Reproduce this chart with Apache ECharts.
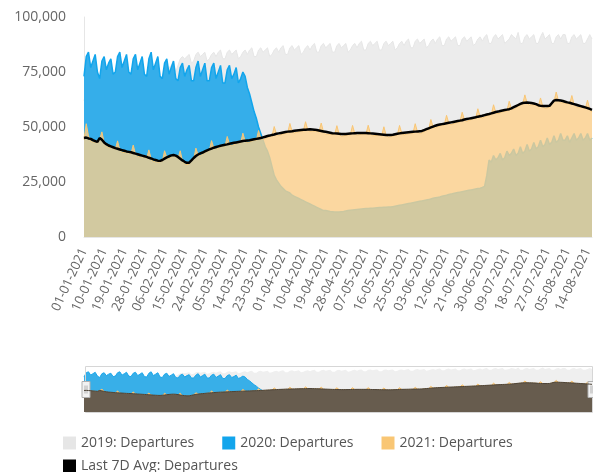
<!DOCTYPE html>
<html>
<head>
<meta charset="utf-8">
<script src="https://cdn.jsdelivr.net/npm/echarts@6/dist/echarts.min.js"></script>
<style>
html, body { margin: 0; padding: 0; background: #fff; overflow: hidden; }
#chart { width: 593px; height: 472px; }
</style>
</head>
<body>
<div id="chart"></div>
<script>
// categories: daily, 01-01-2021 .. 16-08-2021
const days = [];
for (let d = new Date(Date.UTC(2021, 0, 1)); d <= new Date(Date.UTC(2021, 7, 16)); d.setUTCDate(d.getUTCDate() + 1)) {
    const dd = String(d.getUTCDate()).padStart(2, '0');
    const mm = String(d.getUTCMonth() + 1).padStart(2, '0');
    days.push(dd + '-' + mm + '-' + d.getUTCFullYear());
}

const yTicks = [0, 25000, 50000, 75000, 100000];

// one row = one week
const dep2019 = [
    62000, 66000, 68000, 67000, 68000, 69000, 64000,
    65000, 68000, 69000, 68000, 69000, 70000, 65000,
    67000, 69000, 70000, 69000, 70000, 71000, 66000,
    68000, 70000, 71000, 70000, 71000, 72000, 67000,
    70000, 72000, 73000, 72000, 73000, 74000, 69000,
    73000, 76000, 78000, 77000, 78000, 80000, 75000,
    78000, 81000, 82000, 81000, 82000, 83000, 79000,
    80000, 83000, 84000, 82000, 83000, 84000, 80000,
    81000, 83000, 84000, 82000, 84000, 85000, 81000,
    81000, 84000, 85000, 83000, 84000, 85000, 81000,
    82000, 84000, 85000, 83000, 85000, 86000, 82000,
    82000, 85000, 86000, 84000, 85000, 86000, 82000,
    83000, 85000, 86000, 84000, 86000, 87000, 83000,
    83000, 86000, 87000, 85000, 86000, 87000, 83000,
    84000, 86000, 87000, 85000, 87000, 88000, 84000,
    84000, 87000, 88000, 86000, 87000, 88000, 84000,
    84000, 87000, 88000, 86000, 87000, 88000, 84000,
    85000, 87000, 88000, 86000, 88000, 89000, 85000,
    85000, 88000, 89000, 87000, 88000, 89000, 85000,
    85000, 88000, 89000, 87000, 88000, 89000, 85000,
    86000, 88000, 89000, 87000, 89000, 90000, 86000,
    86000, 89000, 90000, 88000, 89000, 90000, 86000,
    87000, 89000, 90000, 88000, 90000, 91000, 87000,
    87000, 90000, 91000, 89000, 90000, 91000, 87000,
    87000, 90000, 91000, 89000, 90000, 91000, 87000,
    88000, 90000, 91000, 89000, 91000, 92000, 88000,
    88000, 91000, 92000, 90000, 91000, 92000, 88000,
    89000, 90000, 92000, 91000, 90000, 93000, 88000,
    88000, 91000, 92000, 90000, 91000, 92000, 88000,
    88000, 91000, 93000, 90000, 91000, 92000, 88000,
    88000, 91000, 92000, 90000, 92000, 92000, 88000,
    88000, 91000, 92000, 90000, 91000, 92000, 88000,
    88000, 90000, 92000, 90000
];

const dep2020 = [
    73000, 82000, 84000, 77000, 80000, 83000, 75000,
    72000, 80000, 82000, 76000, 79000, 81000, 74000,
    75000, 82000, 84000, 77000, 80000, 83000, 75000,
    74000, 81000, 83000, 76000, 79000, 82000, 74000,
    73000, 81000, 84000, 76000, 79000, 82000, 73000,
    72000, 79000, 81000, 74000, 77000, 80000, 72000,
    71000, 77000, 79000, 73000, 76000, 78000, 71000,
    71000, 77000, 80000, 73000, 76000, 79000, 71000,
    71000, 77000, 79000, 72000, 75000, 78000, 70000,
    70000, 76000, 78000, 72000, 74000, 77000, 70000,
    72000, 75000, 73000, 68000, 65000, 61000, 57000,
    54000, 50000, 47000, 44000, 41000, 39000, 36000,
    32000, 28000, 26000, 24500, 23000, 22000, 21000,
    20500, 20000, 19000, 18500, 18000, 17500, 17000,
    16500, 16000, 15500, 15000, 14500, 14000, 13500,
    13000, 12500, 12000, 12000, 11800, 11600, 11500,
    11400, 11400, 11400, 11500, 11600, 11800, 12000,
    12200, 12300, 12400, 12500, 12600, 12700, 12800,
    12900, 13000, 13100, 13100, 13200, 13300, 13400,
    13400, 13500, 13500, 13600, 13600, 13800, 14000,
    14200, 14400, 14600, 14800, 15000, 15200, 15400,
    15600, 15800, 16000, 16200, 16400, 16600, 16800,
    17000, 17300, 17600, 17800, 18000, 18200, 18500,
    18800, 19000, 19300, 19500, 19800, 20000, 20200,
    20400, 20600, 20800, 21000, 21200, 21400, 21600,
    21800, 22000, 22200, 22500, 23000, 28000, 35000,
    34000, 37000, 35000, 36000, 38000, 35000, 36000,
    39000, 37000, 38000, 40000, 37000, 38000, 41000,
    38000, 39000, 42000, 39000, 40000, 43000, 40000,
    41000, 44000, 41000, 42000, 45000, 42000, 43000,
    46000, 43000, 44000, 47000, 44000, 44000, 46000,
    43000, 45000, 47000, 44000, 45000, 47000, 44000,
    45000, 47000, 44000, 45000
];

const dep2021 = [
    44400, 51500, 46000, 43600, 43200, 43000, 42800,
    44400, 47800, 42800, 41200, 40800, 40600, 40400,
    39800, 43700, 39600, 38500, 38400, 38300, 38300,
    37900, 41800, 37700, 36600, 36500, 36400, 36300,
    35800, 39600, 35500, 34300, 34200, 34100, 34200,
    34400, 39200, 36000, 35700, 36300, 36700, 36600,
    35800, 39200, 34600, 33200, 32900, 33200, 34400,
    35300, 40400, 37300, 37000, 37600, 38300, 39000,
    39200, 43800, 40400, 39900, 40400, 40900, 41300,
    41300, 45700, 42200, 41600, 42000, 42400, 42800,
    42800, 47200, 43600, 42900, 43200, 43600, 44000,
    44000, 48400, 44800, 44300, 44800, 45300, 45700,
    45800, 50200, 46700, 46100, 46500, 46900, 47300,
    47300, 51600, 47900, 47300, 47600, 47900, 48200,
    48100, 52400, 48700, 48000, 48100, 48200, 48200,
    47800, 51800, 47800, 46800, 46800, 46800, 46800,
    46500, 50600, 46700, 45800, 46000, 46200, 46500,
    46400, 50700, 47000, 46300, 46500, 46700, 46900,
    46700, 50800, 46900, 46000, 46100, 46200, 46300,
    46000, 50100, 46200, 45400, 45600, 45900, 46300,
    46300, 50700, 47100, 46400, 46700, 47000, 47300,
    47200, 51500, 47800, 47100, 47400, 48000, 48600,
    48800, 53400, 50000, 49600, 50100, 50500, 50900,
    50900, 55300, 51700, 51100, 51500, 51900, 52300,
    52300, 56700, 53200, 52600, 53000, 53400, 53800,
    53800, 58300, 54700, 54100, 54600, 55100, 55500,
    55600, 60100, 56600, 56000, 56500, 56900, 57300,
    57300, 61700, 58300, 58000, 58700, 59400, 60100,
    60300, 64600, 60900, 60000, 60100, 60100, 60000,
    59300, 63200, 59300, 58500, 58700, 59000, 60400,
    61400, 65900, 62000, 61000, 61000, 60900, 60800,
    60400, 64300, 60200, 59100, 59000, 58900, 58800,
    58300, 62200, 58000, 56800
];

const avg7d = [
    45000, 45200, 44800, 44600, 44000, 43600, 43200,
    45000, 44200, 43000, 42200, 41600, 41200, 40800,
    40400, 40100, 39800, 39500, 39200, 38900, 38700,
    38500, 38200, 37900, 37600, 37300, 37000, 36700,
    36400, 36000, 35700, 35300, 35000, 34700, 34600,
    35000, 35600, 36200, 36700, 37100, 37300, 37000,
    36400, 35600, 34800, 34200, 33700, 33800, 34800,
    35900, 36800, 37500, 38000, 38400, 38900, 39400,
    39800, 40200, 40600, 40900, 41200, 41500, 41700,
    41900, 42100, 42400, 42600, 42800, 43000, 43200,
    43400, 43600, 43800, 43900, 44000, 44200, 44400,
    44600, 44800, 45000, 45300, 45600, 45900, 46100,
    46400, 46600, 46900, 47100, 47300, 47500, 47700,
    47900, 48000, 48100, 48300, 48400, 48500, 48600,
    48700, 48800, 48900, 49000, 48900, 48800, 48600,
    48400, 48200, 48000, 47800, 47600, 47400, 47200,
    47100, 47000, 46900, 46800, 46800, 46800, 46900,
    47000, 47100, 47200, 47300, 47300, 47300, 47300,
    47300, 47200, 47100, 47000, 46900, 46800, 46700,
    46600, 46500, 46400, 46400, 46400, 46500, 46700,
    46900, 47100, 47300, 47400, 47500, 47600, 47700,
    47800, 47900, 48000, 48100, 48200, 48600, 49000,
    49400, 49800, 50200, 50600, 50900, 51100, 51300,
    51500, 51700, 51900, 52100, 52300, 52500, 52700,
    52900, 53100, 53400, 53600, 53800, 54000, 54200,
    54400, 54700, 54900, 55100, 55400, 55700, 55900,
    56200, 56500, 56800, 57000, 57300, 57500, 57700,
    57900, 58100, 58500, 59000, 59500, 60000, 60500,
    60900, 61000, 61100, 61000, 60900, 60700, 60400,
    59900, 59600, 59500, 59500, 59500, 59600, 60800,
    62000, 62300, 62200, 62000, 61800, 61500, 61200,
    61000, 60700, 60400, 60100, 59800, 59500, 59200,
    58900, 58600, 58200, 57800
];

const names = ['2019: Departures', '2020: Departures', '2021: Departures', 'Last 7D Avg: Departures'];

const chart = echarts.init(document.getElementById('chart'));
const font = '"Open Sans", sans-serif';

function area(name, data, line, fill, opacity, lw, axis, z) {
    return {
        name: name,
        type: 'line',
        data: data,
        xAxisIndex: axis,
        yAxisIndex: axis,
        z: z,
        symbol: 'none',
        silent: axis === 1,
        lineStyle: { width: lw, color: line },
        itemStyle: { color: line },
        areaStyle: { color: fill, opacity: opacity }
    };
}

chart.setOption({
    animation: false,
    textStyle: { fontFamily: font },
    grid: [
        { left: 84, right: 1, top: 17, height: 220, outerBoundsMode: 'none' },
        { left: 84, right: 1, top: 367, height: 45, outerBoundsMode: 'none' }
    ],
    xAxis: [
        {
            type: 'category', data: days, boundaryGap: false, gridIndex: 0,
            axisLine: { lineStyle: { color: '#e6e6e6' } },
            axisTick: { show: false },
            axisLabel: { interval: 8, rotate: 65, color: '#666', fontSize: 13, margin: 12, fontFamily: font }
        },
        { type: 'category', data: days, boundaryGap: false, gridIndex: 1, show: false }
    ],
    yAxis: [
        {
            type: 'value', min: yTicks[0], max: yTicks[yTicks.length - 1], interval: 25000, gridIndex: 0,
            axisLine: { show: true, lineStyle: { color: '#e6e6e6' } },
            axisTick: { show: false },
            splitLine: { show: false },
            axisLabel: {
                color: '#666', fontSize: 14, margin: 18, fontFamily: font,
                formatter: function (v) { return v.toLocaleString('en-US'); }
            }
        },
        { type: 'value', min: 0, max: 94000, gridIndex: 1, show: false }
    ],
    dataZoom: [{
        type: 'slider', xAxisIndex: 0, start: 0, end: 100,
        left: 84, right: 1, top: 366, height: 47,
        showDataShadow: false, showDetail: false, brushSelect: false, moveHandleSize: 0,
        backgroundColor: 'rgba(0,0,0,0)', fillerColor: 'rgba(0,0,0,0)',
        borderColor: '#d6d6d6',
        handleIcon: 'path://M0,0 L8,0 L8,16 L0,16 Z M3,4 L3,12 M5,4 L5,12',
        handleSize: 16,
        handleStyle: { color: '#f2f2f2', borderColor: '#b0b0b0', borderWidth: 1 }
    }],
    legend: [
        {
            data: names.slice(0, 3), left: 58, top: 431, icon: 'rect',
            itemWidth: 13, itemHeight: 13, itemGap: 28,
            textStyle: { color: '#555', fontSize: 14, fontFamily: font }
        },
        {
            data: names.slice(3), left: 58, top: 454, icon: 'rect',
            itemWidth: 13, itemHeight: 13,
            textStyle: { color: '#555', fontSize: 14, fontFamily: font }
        }
    ],
    series: [
        area(names[0], dep2019, '#e6e6e6', '#ececec', 1, 1, 0, 1),
        area(names[1], dep2020, '#12a5ec', '#35aeea', 1, 1.5, 0, 2),
        area(names[2], dep2021, '#f9c674', '#ffd18a', 0.78, 1, 0, 3),
        {
            name: names[3], type: 'line', data: avg7d, symbol: 'none', z: 4,
            lineStyle: { width: 2.5, color: '#000' }, itemStyle: { color: '#000' }
        },
        // navigator
        area('n2019', dep2019, '#ededed', '#efefef', 1, 0, 1, 1),
        area('n2020', dep2020, '#1aa6ea', '#38afe8', 1, 1, 1, 2),
        area('n2021', dep2021, '#f5bf6a', '#ffd18a', 1, 1, 1, 3),
        area('navg', avg7d, '#4d4438', '#675c4e', 1, 1, 1, 4)
    ]
});
</script>
</body>
</html>
